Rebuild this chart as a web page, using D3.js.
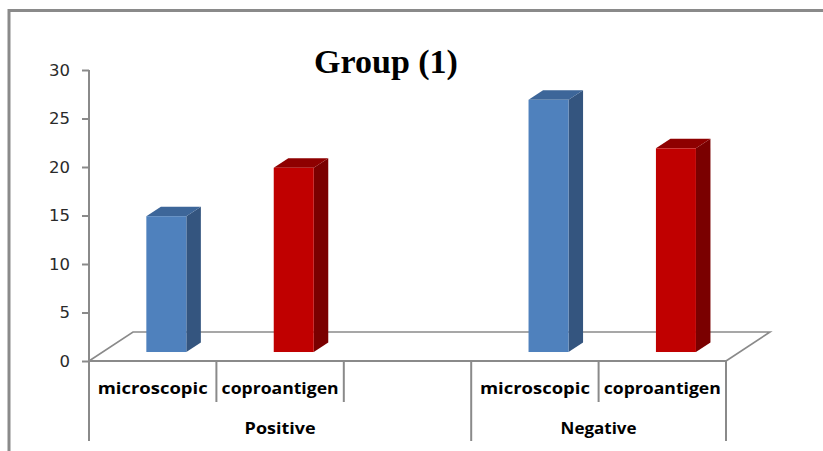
<!DOCTYPE html>
<html>
<head>
<meta charset="utf-8">
<script src="https://cdn.jsdelivr.net/npm/d3@7"></script>
<style>
  html, body { margin: 0; padding: 0; background: #fff; }
  svg { display: block; }
</style>
</head>
<body>
<svg id="chart" width="823" height="451"></svg>
<script>
// ---- data ----
const categoryKeys   = ["P-micro", "P-copro", "P-blank", "N-micro", "N-copro"];
const categoryLabels = ["microscopic", "coproantigen", "", "microscopic", "coproantigen"];
const categoryGroups = ["Positive", "Positive", "Positive", "Negative", "Negative"];
const groupNames     = ["Positive", "Negative"];
const values         = [14, 19, null, 26, 21];
const methods        = ["microscopic", "coproantigen", "", "microscopic", "coproantigen"];
const yTicks         = [0, 5, 10, 15, 20, 25, 30];
const titleText      = "Group (1)";

// ---- styles ----
const palette = {
  microscopic:  { front: "#4F81BD", side: "#34557F", top: "#3D6699" },
  coproantigen: { front: "#C00000", side: "#7A0000", top: "#8E0000" }
};
const lineColor = "#8a8a8a";

const svg = d3.select("#chart");

// frame
svg.append("path")
  .attr("d", "M9,451 L9,10.5 L823,10.5")
  .attr("fill", "none").attr("stroke", lineColor).attr("stroke-width", 3);

// scales
const x0 = 89, x1 = 726, yBase = 361, yTop = 70;
const y = d3.scaleLinear().domain([0, 30]).range([yBase, yTop]);
const x = d3.scaleBand().domain(categoryKeys).range([x0, x1]).padding(0);

// depth vector of floor
const DX = 44, DY = -29;
const fFront = 0.31, fBack = 0.64;
const barFrac = 0.314;

// floor
svg.append("path")
  .attr("d", `M${x0},${yBase} L${x0 + DX},${yBase + DY} L${x1 + DX},${yBase + DY} L${x1},${yBase}`)
  .attr("fill", "none").attr("stroke", lineColor).attr("stroke-width", 1.6);

// bars
const bw = x.bandwidth() * barFrac;
const bdx = (fBack - fFront) * DX, bdy = (fBack - fFront) * DY;
categoryKeys.forEach((k, i) => {
  const v = values[i];
  if (v == null) return;
  const col = palette[methods[i]];
  const xl = x(k) + x.bandwidth() / 2 - bw / 2 + fFront * DX;
  const xr = xl + bw;
  const yb = y(0) + fFront * DY;
  const yt = y(v) + fFront * DY;
  const g = svg.append("g");
  g.append("path")
    .attr("d", `M${xr},${yb} L${xr + bdx},${yb + bdy} L${xr + bdx},${yt + bdy} L${xr},${yt} Z`)
    .attr("fill", col.side);
  g.append("path")
    .attr("d", `M${xl},${yt} L${xr},${yt} L${xr + bdx},${yt + bdy} L${xl + bdx},${yt + bdy} Z`)
    .attr("fill", col.top);
  g.append("rect")
    .attr("x", xl).attr("y", yt).attr("width", bw).attr("height", yb - yt)
    .attr("fill", col.front);
});

// y axis
svg.append("line")
  .attr("x1", x0).attr("x2", x0).attr("y1", yTop).attr("y2", 441)
  .attr("stroke", lineColor).attr("stroke-width", 2);
const yAxis = svg.append("g")
  .attr("transform", `translate(${x0},0)`)
  .call(d3.axisLeft(y).tickValues(yTicks).tickSize(7).tickPadding(12));
yAxis.select(".domain").remove();
yAxis.selectAll(".tick line").attr("stroke", lineColor).attr("stroke-width", 2);
yAxis.selectAll(".tick text")
  .attr("fill", "#2a2a2a")
  .style("font-family", "'DejaVu Sans', sans-serif")
  .style("font-size", "16.5px");

// category axis
svg.append("line")
  .attr("x1", x0).attr("x2", x1).attr("y1", yBase).attr("y2", yBase)
  .attr("stroke", lineColor).attr("stroke-width", 2);

categoryKeys.forEach((k, i) => {
  if (i === 0) return;
  if (categoryGroups[i] !== categoryGroups[i - 1]) return;
  svg.append("line")
    .attr("x1", x(k)).attr("x2", x(k)).attr("y1", yBase).attr("y2", 402)
    .attr("stroke", lineColor).attr("stroke-width", 2);
});
const groupEdges = [x0];
categoryKeys.forEach((k, i) => {
  if (i > 0 && categoryGroups[i] !== categoryGroups[i - 1]) groupEdges.push(x(k));
});
groupEdges.push(x1);
groupEdges.forEach(ex => {
  svg.append("line")
    .attr("x1", ex).attr("x2", ex).attr("y1", yBase).attr("y2", 441)
    .attr("stroke", lineColor).attr("stroke-width", 2);
});

const labelFont = "'Open Sans', 'DejaVu Sans', sans-serif";
categoryKeys.forEach((k, i) => {
  if (!categoryLabels[i]) return;
  svg.append("text")
    .attr("x", x(k) + x.bandwidth() / 2)
    .attr("y", 394)
    .attr("text-anchor", "middle")
    .style("font-family", labelFont)
    .style("font-weight", "bold")
    .style("font-size", "16.5px")
    .attr("fill", "#000")
    .attr("textLength", categoryLabels[i] === "microscopic" ? 110 : 117)
    .attr("lengthAdjust", "spacingAndGlyphs")
    .text(categoryLabels[i]);
});

groupNames.forEach((gname, gi) => {
  const cx = (groupEdges[gi] + groupEdges[gi + 1]) / 2;
  svg.append("text")
    .attr("x", cx).attr("y", 434)
    .attr("text-anchor", "middle")
    .style("font-family", labelFont)
    .style("font-weight", "bold")
    .style("font-size", "16.5px")
    .attr("fill", "#000")
    .attr("textLength", gname === "Positive" ? 71 : 76)
    .attr("lengthAdjust", "spacingAndGlyphs")
    .text(gname);
});

svg.append("text")
  .attr("x", 386).attr("y", 73)
  .attr("text-anchor", "middle")
  .style("font-family", "'Liberation Serif', 'Times New Roman', serif")
  .style("font-weight", "bold")
  .style("font-size", "34px")
  .attr("fill", "#000")
  .text(titleText);
</script>
</body>
</html>
